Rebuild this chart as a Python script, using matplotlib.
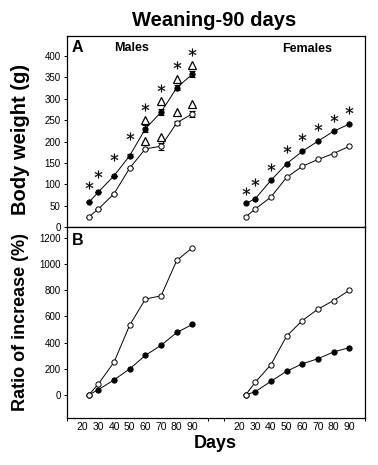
import matplotlib
matplotlib.use("Agg")
import matplotlib.pyplot as plt
import numpy as np

plt.rcParams['font.family'] = ['Liberation Sans', 'DejaVu Sans']

# days of measurement; females are drawn on the same axis, shifted right
days = [24, 30, 40, 50, 60, 70, 80, 90]
female_shift = 100
tick_days = [20, 30, 40, 50, 60, 70, 80, 90]

# panel A: body weight (g)
male_filled = [58, 82, 120, 167, 230, 269, 326, 358]
male_filled_err = [0, 0, 0, 4, 8, 7, 6, 6]
male_open = [24, 42, 78, 138, 183, 189, 244, 265]
male_open_err = [0, 0, 0, 0, 0, 8, 5, 7]
female_filled = [55, 66, 109, 148, 177, 201, 224, 241]
female_open = [24, 42, 70, 116, 142, 158, 172, 189]

# significance marks, panel A
male_star_days = [24, 30, 40, 50, 60, 70, 80, 90]
male_star_y = [99, 124, 164, 212, 281, 326, 378, 409]
male_tri_days = [60, 70, 80, 90, 60, 70, 80, 90]
male_tri_y = [251, 296, 347, 380, 201, 211, 269, 289]
female_star_y = [84, 105, 140, 183, 210, 233, 255, 273]

# panel B: ratio of increase (%)
male_ratio_open = [0, 83, 250, 534, 733, 758, 1029, 1127]
male_ratio_filled = [0, 39, 114, 199, 302, 379, 477, 539]
female_ratio_open = [0, 95, 230, 449, 568, 656, 722, 800]
female_ratio_filled = [0, 23, 103, 180, 237, 276, 328, 361]

W, H = 378, 465
fig = plt.figure(figsize=(W / 100, H / 100), dpi=100)


def box(x0, y0, x1, y1):
    return [x0 / W, 1 - y1 / H, (x1 - x0) / W, (y1 - y0) / H]


axA = fig.add_axes(box(67, 36, 365, 227))
axB = fig.add_axes(box(67, 227, 365, 418))

fd = [d + female_shift for d in days]


def series(ax, x, y, filled, err=None):
    mfc = 'black' if filled else 'white'
    ax.plot(x, y, '-', color='black', lw=0.7, zorder=2)
    if err is not None:
        ax.errorbar(x, y, yerr=err, fmt='none', ecolor='black', elinewidth=0.8,
                    capsize=2, capthick=0.8, zorder=2)
    ax.plot(x, y, 'o', ms=3.8, mfc=mfc, mec='black', mew=0.7, zorder=3)


# panel A
series(axA, days, male_open, False, male_open_err)
series(axA, days, male_filled, True, male_filled_err)
series(axA, fd, female_open, False)
series(axA, fd, female_filled, True)
star = dict(ls='none', marker='$*$', ms=5.5, mec='black', mew=0.2, color='black')
axA.plot(male_star_days, male_star_y, **star)
axA.plot(fd, female_star_y, **star)
axA.plot(male_tri_days, male_tri_y, ls='none', marker='^', ms=6,
         mfc='white', mec='black', mew=0.9)
axA.set_ylim(0, 447)
axA.set_yticks(np.arange(0, 401, 50))

# panel B
series(axB, days, male_ratio_filled, True)
series(axB, days, male_ratio_open, False)
series(axB, fd, female_ratio_filled, True)
series(axB, fd, female_ratio_open, False)
axB.set_ylim(-178, 1285)
axB.set_yticks(np.arange(0, 1201, 200))

for ax in (axA, axB):
    ax.set_xlim(10, 200)
    for s in ax.spines.values():
        s.set_linewidth(0.9)
    ax.tick_params(axis='y', direction='out', length=2.5, width=0.7,
                   labelsize=7, pad=2)

axA.set_xticks([])
pos = tick_days + [d + female_shift for d in tick_days]
axB.set_xticks(pos)
axB.set_xticklabels([str(d) for d in tick_days] * 2)
axB.tick_params(axis='x', length=0, labelsize=7.5, pad=3)
axB.set_xticks([10, 100, 110, 200], minor=True)
axB.tick_params(axis='x', which='minor', direction='out', length=2.5, width=0.7)

fig.text(72 / W, 1 - 48 / H, 'A', fontsize=11.5,
         fontweight='bold', ha='left', va='center')
fig.text(132 / W, 1 - 48 / H, 'Males', fontsize=9,
         fontweight='bold', ha='center', va='center')
fig.text(307 / W, 1 - 49 / H, 'Females', fontsize=9,
         fontweight='bold', ha='center', va='center')
fig.text(72 / W, 1 - 240 / H, 'B', fontsize=11.5,
         fontweight='bold', ha='left', va='center')

fig.text(214 / W, 1 - 21 / H, 'Weaning-90 days', fontsize=14.5,
         fontweight='bold', ha='center', va='center')
fig.text(21 / W, 1 - 139 / H, 'Body weight (g)', fontsize=14.5,
         fontweight='bold', ha='center', va='center', rotation=90)
fig.text(21 / W, 1 - 322 / H, 'Ratio of increase (%)', fontsize=13,
         fontweight='bold', ha='center', va='center', rotation=90)
fig.text(215 / W, 1 - 443 / H, 'Days', fontsize=13,
         fontweight='bold', ha='center', va='center')

fig.savefig('out.png', dpi=100)
